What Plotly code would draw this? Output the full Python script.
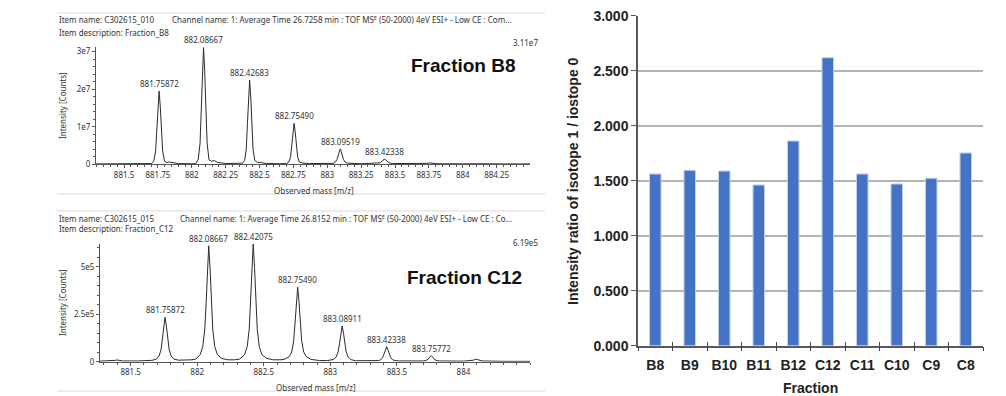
import plotly.graph_objects as go

# ---------------- bar chart data ----------------
fractions = ["B8", "B9", "B10", "B11", "B12", "C12", "C11", "C10", "C9", "C8"]
ratios = [1.561, 1.594, 1.588, 1.461, 1.861, 2.618, 1.561, 1.470, 1.522, 1.752]
bar_yticks = [0, 0.5, 1.0, 1.5, 2.0, 2.5, 3.0]

# ---------------- spectrum B8 (intensity in units of 1e7 counts) ----------------
b8_mz = [881.293, 881.40, 881.50, 881.60, 881.70, 881.719, 881.733, 881.743, 881.751, 881.7587,
         881.767, 881.775, 881.785, 881.799, 881.815, 881.835, 881.86, 881.90, 882.00, 882.03,
         882.047, 882.061, 882.071, 882.079, 882.0867, 882.095, 882.103, 882.113, 882.127, 882.145,
         882.165, 882.19, 882.25, 882.35, 882.375, 882.390, 882.402, 882.411, 882.419, 882.4268,
         882.435, 882.443, 882.452, 882.465, 882.485, 882.505, 882.54, 882.65, 882.70, 882.716,
         882.729, 882.739, 882.747, 882.7549, 882.763, 882.771, 882.781, 882.794, 882.82, 882.87,
         883.00, 883.045, 883.060, 883.072, 883.082, 883.089, 883.0952, 883.102, 883.109, 883.119,
         883.131, 883.15, 883.25, 883.37, 883.39, 883.405, 883.4234, 883.44, 883.456, 883.48,
         883.60, 883.70, 883.73, 883.755, 883.78, 883.81, 884.00, 884.06, 884.085, 884.11,
         884.30, 884.496]
b8_int = [0.010, 0.012, 0.015, 0.015, 0.020, 0.08, 0.35, 0.98, 1.56, 1.95,
          1.56, 0.98, 0.35, 0.08, 0.05, 0.06, 0.04, 0.02, 0.015, 0.02,
          0.12, 0.56, 1.56, 2.49, 3.11, 2.49, 1.56, 0.56, 0.12, 0.08,
          0.10, 0.05, 0.02, 0.015, 0.03, 0.10, 0.40, 1.12, 1.79, 2.24,
          1.79, 1.12, 0.40, 0.10, 0.05, 0.05, 0.025, 0.015, 0.02, 0.06,
          0.20, 0.55, 0.87, 1.09, 0.87, 0.55, 0.20, 0.06, 0.03, 0.02,
          0.015, 0.025, 0.06, 0.13, 0.25, 0.35, 0.41, 0.35, 0.25, 0.13,
          0.06, 0.03, 0.015, 0.02, 0.04, 0.09, 0.14, 0.09, 0.04, 0.02,
          0.015, 0.015, 0.025, 0.035, 0.025, 0.015, 0.012, 0.015, 0.02, 0.015,
          0.01, 0.01]
b8_peak_mz = [881.75872, 882.08667, 882.42683, 882.75490, 883.09519, 883.42338]
b8_peak_int = [1.95, 3.11, 2.24, 1.09, 0.41, 0.14]
b8_peak_labels = ["881.75872", "882.08667", "882.42683", "882.75490", "883.09519", "883.42338"]
b8_xticks = [881.5, 881.75, 882, 882.25, 882.5, 882.75, 883, 883.25, 883.5, 883.75, 884, 884.25]
b8_xticklabels = ["881.5", "881.75", "882", "882.25", "882.5", "882.75", "883", "883.25",
                  "883.5", "883.75", "884", "884.25"]
b8_yticks = [0, 1, 2, 3]
b8_yticklabels = ["0", "1e7", "2e7", "3e7"]

# ---------------- spectrum C12 (intensity in units of 1e5 counts) ----------------
c12_mz = [881.27, 881.36, 881.385, 881.40, 881.415, 881.44, 881.55, 881.62, 881.66, 881.694,
          881.714, 881.729, 881.739, 881.749, 881.7587, 881.769, 881.779, 881.789, 881.804, 881.824,
          881.86, 881.92, 881.96, 881.99, 882.022, 882.042, 882.057, 882.067, 882.077, 882.0867,
          882.097, 882.107, 882.117, 882.132, 882.152, 882.185, 882.23, 882.28, 882.32, 882.356,
          882.376, 882.391, 882.401, 882.411, 882.4208, 882.431, 882.441, 882.451, 882.466, 882.486,
          882.52, 882.57, 882.63, 882.66, 882.69, 882.71, 882.725, 882.735, 882.745, 882.7549,
          882.765, 882.775, 882.785, 882.80, 882.82, 882.855, 882.92, 882.98, 883.024, 883.044,
          883.059, 883.069, 883.079, 883.0891, 883.099, 883.109, 883.119, 883.134, 883.154, 883.19,
          883.28, 883.34, 883.363, 883.378, 883.393, 883.403, 883.413, 883.4234, 883.433, 883.443,
          883.453, 883.468, 883.485, 883.52, 883.65, 883.70, 883.72, 883.735, 883.746, 883.7577,
          883.769, 883.780, 883.795, 883.82, 884.00, 884.05, 884.075, 884.095, 884.115, 884.14,
          884.30, 884.50]
c12_int = [0.03, 0.04, 0.07, 0.09, 0.07, 0.04, 0.04, 0.05, 0.07, 0.14,
           0.30, 0.66, 1.17, 1.87, 2.34, 1.87, 1.17, 0.66, 0.30, 0.14,
           0.08, 0.07, 0.10, 0.14, 0.37, 0.79, 1.71, 3.05, 4.88, 6.10,
           4.88, 3.05, 1.71, 0.79, 0.37, 0.17, 0.10, 0.10, 0.14, 0.37,
           0.80, 1.73, 3.10, 4.95, 6.19, 4.95, 3.10, 1.73, 0.80, 0.37,
           0.18, 0.10, 0.10, 0.14, 0.26, 0.51, 1.10, 1.96, 3.14, 3.92,
           3.14, 1.96, 1.10, 0.51, 0.26, 0.12, 0.06, 0.06, 0.12, 0.24,
           0.53, 0.94, 1.50, 1.88, 1.50, 0.94, 0.53, 0.24, 0.11, 0.05,
           0.04, 0.04, 0.06, 0.10, 0.22, 0.40, 0.63, 0.79, 0.63, 0.40,
           0.22, 0.10, 0.06, 0.04, 0.03, 0.04, 0.07, 0.13, 0.24, 0.32,
           0.24, 0.13, 0.07, 0.04, 0.03, 0.04, 0.08, 0.13, 0.08, 0.04,
           0.02, 0.02]
c12_peak_mz = [881.75872, 882.08667, 882.42075, 882.75490, 883.08911, 883.42338, 883.75772]
c12_peak_int = [2.34, 6.10, 6.19, 3.92, 1.88, 0.79, 0.32]
c12_peak_labels = ["881.75872", "882.08667", "882.42075", "882.75490", "883.08911", "883.42338",
                   "883.75772"]
c12_xticks = [881.5, 882, 882.5, 883, 883.5, 884]
c12_xticklabels = ["881.5", "882", "882.5", "883", "883.5", "884"]
c12_yticks = [0, 2.5, 5]
c12_yticklabels = ["0", "2.5e5", "5e5"]

W, H = 1006, 396
def px(x):
    return x / W
def py(y):
    return 1 - y / H

SFONT = "Noto Sans"
SCOL = "#333333"
ACOL = "#555555"
BFONT = "Liberation Sans"

fig = go.Figure()

# spectra traces
fig.add_trace(go.Scatter(x=b8_mz, y=b8_int, mode="lines", line=dict(color="#2b2b2b", width=1),
                         xaxis="x", yaxis="y", showlegend=False, hoverinfo="skip"))
fig.add_trace(go.Scatter(x=c12_mz, y=c12_int, mode="lines", line=dict(color="#2b2b2b", width=1),
                         xaxis="x2", yaxis="y2", showlegend=False, hoverinfo="skip"))

# bar chart
fig.add_trace(go.Bar(x=fractions, y=ratios, marker=dict(color="#4472C4",
                     line=dict(color="#9DB3DC", width=0.8)),
                     xaxis="x3", yaxis="y3", showlegend=False, hoverinfo="skip"))
# invisible copy to carry inside (crossing) category ticks
fig.add_trace(go.Bar(x=fractions, y=ratios, marker=dict(color="rgba(0,0,0,0)"),
                     xaxis="x4", yaxis="y3", showlegend=False, hoverinfo="skip"))

spec_axis_common = dict(showgrid=False, zeroline=False, showline=True, linecolor=ACOL, linewidth=1,
                        ticks="outside", ticklen=3, tickcolor=ACOL, tickwidth=1, automargin=False,
                        tickangle=0,
                        tickfont=dict(family=SFONT, size=8, color=SCOL), tickmode="array")

fig.update_layout(
    width=W, height=H, margin=dict(l=0, r=0, t=0, b=0, autoexpand=False),
    paper_bgcolor="white", plot_bgcolor="white", bargap=0.667,
    xaxis=dict(domain=[px(96), px(530)], range=[881.293, 884.496], anchor="y",
               tickvals=b8_xticks, ticktext=b8_xticklabels,
               minor=dict(tickmode="linear", tick0=881.5, dtick=0.05, ticks="outside", ticklen=2,
                          tickcolor=ACOL),
               **spec_axis_common),
    yaxis=dict(domain=[py(164.3), py(47.4)], range=[0, 3.11], anchor="x",
               tickvals=b8_yticks, ticktext=b8_yticklabels,
               minor=dict(tickmode="linear", tick0=0, dtick=0.2, ticks="outside", ticklen=2,
                          tickcolor=ACOL),
               **spec_axis_common),
    xaxis2=dict(domain=[px(100), px(530)], range=[881.27, 884.50], anchor="y2",
                tickvals=c12_xticks, ticktext=c12_xticklabels,
                minor=dict(tickmode="linear", tick0=881.5, dtick=0.1, ticks="outside", ticklen=2,
                           tickcolor=ACOL),
                **spec_axis_common),
    yaxis2=dict(domain=[py(361.7), py(244.1)], range=[0, 6.19], anchor="x2",
                tickvals=c12_yticks, ticktext=c12_yticklabels,
                minor=dict(tickmode="linear", tick0=0, dtick=0.5, ticks="outside", ticklen=2,
                           tickcolor=ACOL),
                **spec_axis_common),
    xaxis3=dict(domain=[px(638), px(983)], anchor="y3", type="category", automargin=False,
                showgrid=False, zeroline=False, showline=True, linecolor="#595959", linewidth=1.5,
                ticks="outside", tickson="boundaries", ticklen=4, tickcolor="#404040", tickwidth=1,
                tickangle=0,
                tickfont=dict(family=BFONT, size=14, color="#222222", weight="bold"),
                ticklabelstandoff=6),
    xaxis4=dict(domain=[px(638), px(983)], anchor="y3", overlaying="x3", type="category",
                automargin=False,
                showgrid=False, zeroline=False, showline=False,
                ticks="inside", tickson="boundaries", ticklen=4, tickcolor="#404040", tickwidth=1,
                showticklabels=False),
    yaxis3=dict(domain=[py(345.7), py(15.7)], range=[0, 3.0], anchor="x3", automargin=False,
                tickmode="array", tickvals=bar_yticks, tickformat=".3f",
                showgrid=True, gridcolor="#B3B3B3", gridwidth=1.5, zeroline=False,
                showline=True, linecolor="#595959", linewidth=1.5,
                ticks="outside", ticklen=5, tickcolor="#595959", tickwidth=1.2,
                tickfont=dict(family=BFONT, size=14, color="#222222", weight="bold")),
)

ann = []
# peak labels
for mz, it, lab in zip(b8_peak_mz, b8_peak_int, b8_peak_labels):
    ann.append(dict(x=mz, y=it, xref="x", yref="y", text=lab, showarrow=False, yanchor="bottom",
                    yshift=0, font=dict(family=SFONT, size=8, color=SCOL)))
for mz, it, lab in zip(c12_peak_mz, c12_peak_int, c12_peak_labels):
    ann.append(dict(x=mz, y=it, xref="x2", yref="y2", text=lab, showarrow=False, yanchor="bottom",
                    yshift=0, font=dict(family=SFONT, size=8, color=SCOL)))

def txt(x, y, s, size=8, xanchor="left", color=SCOL, family=SFONT, bold=False, angle=0):
    f = dict(family=family, size=size, color=color)
    if bold:
        f["weight"] = "bold"
    ann.append(dict(x=px(x), y=py(y), xref="paper", yref="paper", text=s, showarrow=False,
                    xanchor=xanchor, yanchor="middle", font=f, textangle=angle))

# header texts
txt(57, 20, "Item name: C302615_010")
txt(170, 20, "Channel name: 1: Average Time 26.7258 min : TOF MS<sup>E</sup> (50-2000) 4eV ESI+ - Low CE : Com...")
txt(57, 32.5, "Item description: Fraction_B8")
txt(540, 43, "3.11e7", xanchor="right")
txt(57, 218, "Item name: C302615_015")
txt(178, 218, "Channel name: 1: Average Time 26.8152 min : TOF MS<sup>E</sup> (50-2000) 4eV ESI+ - Low CE : Co...")
txt(57, 228.5, "Item description: Fraction_C12")
txt(540, 242, "6.19e5", xanchor="right")
# axis titles spectra
txt(62, 106, "Intensity [Counts]", xanchor="center", angle=-90)
txt(62, 303, "Intensity [Counts]", xanchor="center", angle=-90)
txt(314, 190, "Observed mass [m/z]", xanchor="center")
txt(316, 387, "Observed mass [m/z]", xanchor="center")
# big labels
txt(463, 66, "Fraction B8", size=19, xanchor="center", color="#111111", family=BFONT, bold=True)
txt(464.5, 277, "Fraction C12", size=19, xanchor="center", color="#111111", family=BFONT, bold=True)
# bar chart titles
txt(573, 181, "Intensity ratio of isotope 1 / iostope 0", size=14, xanchor="center",
    color="#222222", family=BFONT, bold=True, angle=-90)
txt(810.5, 388, "Fraction", size=14, xanchor="center", color="#222222", family=BFONT, bold=True)

fig.update_layout(annotations=ann)

# panel separator lines
shapes = []
for yy in [13, 194, 211, 391]:
    shapes.append(dict(type="line", xref="paper", yref="paper", x0=px(57), x1=px(545),
                       y0=py(yy), y1=py(yy), line=dict(color="#D9D9D9", width=1)))
fig.update_layout(shapes=shapes)

fig.write_html("out.html")
